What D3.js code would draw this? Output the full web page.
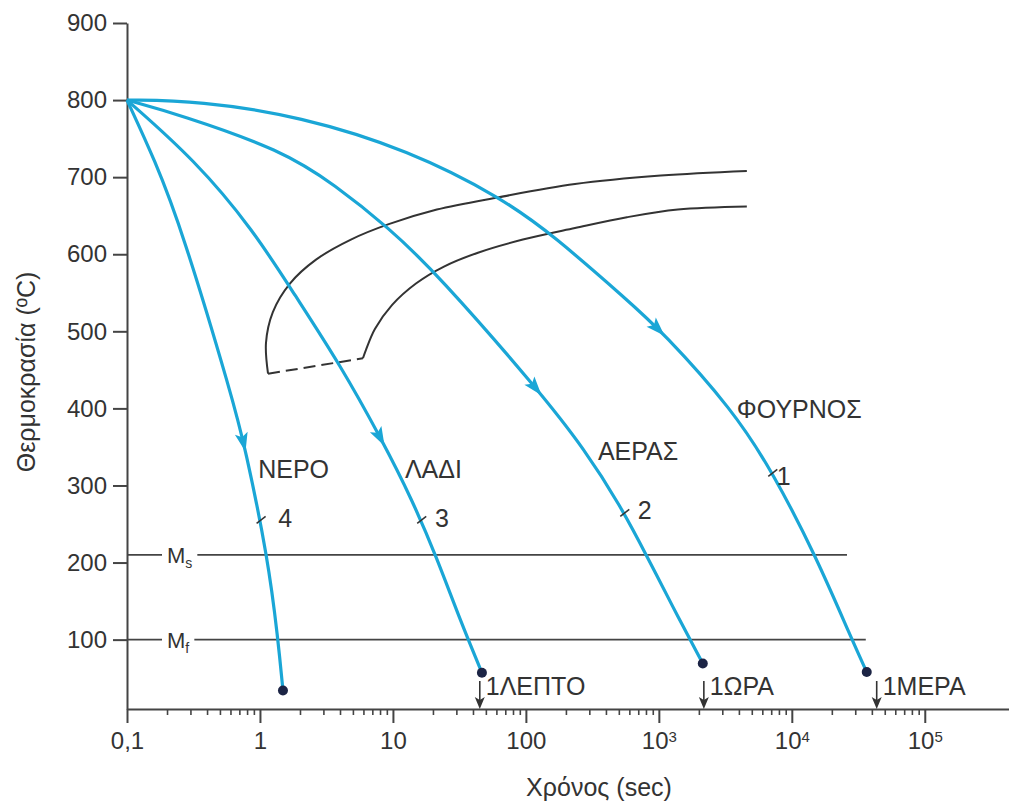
<!DOCTYPE html>
<html>
<head>
<meta charset="utf-8">
<script src="https://cdn.jsdelivr.net/npm/d3@7"></script>
<style>
  body { margin: 0; background: #fff; }
  text { font-family: "Liberation Sans", Arial, Helvetica, sans-serif; fill: #333; }
</style>
</head>
<body>
<div id="chart"></div>
<script>
// Cooling curves on a CCT diagram
// time in sec, temperature in °C

const furnaceTime = [0.1, 0.35, 2.0, 13.2, 66, 162, 575, 1070, 3600, 7200, 15400, 28300, 36600];
const furnaceTemp = [800, 799, 779, 735, 673, 624, 541, 499, 398, 317, 206, 100, 58];

const airTime = [0.1, 0.25, 1.46, 3.66, 9.33, 21.4, 127, 278, 509, 827, 1250, 2140];
const airTemp = [800, 781, 735, 690, 634, 575, 422, 346, 275, 206, 145, 69];

const oilTime = [0.1, 0.325, 0.886, 1.83, 4.0, 8.27, 13.9, 21.4, 31.9, 46.7];
const oilTemp = [800, 722, 632, 547, 457, 359, 282, 206, 126, 57];

const waterTime = [0.1, 0.162, 0.259, 0.627, 0.771, 1.148, 1.366, 1.489];
const waterTemp = [800, 722, 632, 411, 350, 206, 101, 34];

// curve names, numbers and where the arrow / tag sit (temperature on the curve)
const curveNames = ["ΦΟΥΡΝΟΣ", "ΑΕΡΑΣ", "ΛΑΔΙ", "ΝΕΡΟ"];
const curveNumbers = ["1", "2", "3", "4"];
const arrowTemps = [499, 422, 357, 350];
const tagTemps = [317, 265, 256, 256];
const nameTimes = [3860, 348, 12.3, 0.97];
const nameTemps = [388, 333, 310, 310];
const numberTimes = [7710, 695, 20.7, 1.37];
const numberTemps = [301, 256, 246, 246];

// transformation start / finish lines
const startTime = [1.15, 1.11, 1.25, 1.68, 2.64, 4.83, 9.3, 21.4, 62.7, 234, 1035, 4590];
const startTemp = [445, 485, 525, 562, 593, 619, 639, 658, 674, 691, 702, 708];
const finishTime = [5.95, 6.27, 7.32, 9.83, 14.9, 24.2, 43.6, 94.9, 234, 575, 1390, 4590];
const finishTemp = [465, 476, 503, 534, 562, 584, 602, 619, 634, 648, 658, 662];

// martensite lines
const mTemps = [210, 100];
const mEnds = [26000, 36000];
const mSubs = ["s", "f"];

// time markers on the axis
const markTimes = [45, 2180, 43500];
const markLabels = ["1ΛΕΠΤΟ", "1ΩΡΑ", "1ΜΕΡΑ"];

const xTicks = [0.1, 1, 10, 100, 1e3, 1e4, 1e5];
const yTicks = [100, 200, 300, 400, 500, 600, 700, 800, 900];

const width = 1009;
const height = 801;
const margin = {left: 127, right: 0, top: 23, bottom: 92};
const cyan = "#1aa6d6";
const dark = "#333";

const svg = d3.select("#chart")
  .append("svg")
  .attr("width", width)
  .attr("height", height);

const x = d3.scaleLog()
  .domain([0.1, 4.3e5])
  .range([margin.left, width - margin.right]);

const y = d3.scaleLinear()
  .domain([10, 900])
  .range([height - margin.bottom, margin.top]);

// axes
const xAxisG = svg.append("g")
  .attr("transform", `translate(0,${y(10)})`)
  .attr("color", "#444")
  .call(d3.axisBottom(x)
    .tickValues(xTicks)
    .tickSize(14)
    .tickSizeOuter(0)
    .tickPadding(9)
    .tickFormat(d => d === 0.1 ? "0,1" : String(d)));

xAxisG.select(".domain").attr("stroke-width", 2);
xAxisG.selectAll(".tick line").attr("stroke-width", 2);
xAxisG.selectAll(".tick text")
  .attr("font-size", "24px")
  .each(function(d) {
    const k = Math.round(Math.log10(d));
    if (k >= 3) {
      const t = d3.select(this).text("10");
      t.append("tspan").attr("dy", "-0.5em").attr("font-size", "15px").text(k);
    }
  });

// minor ticks
const minorTicks = [];
for (let k = -1; k < 5; k++) {
  for (let m = 2; m <= 9; m++) minorTicks.push(m * Math.pow(10, k));
}
svg.append("g")
  .attr("transform", `translate(0,${y(10)})`)
  .attr("color", "#444")
  .call(d3.axisBottom(x).tickValues(minorTicks).tickSize(6).tickFormat(""))
  .call(g => g.select(".domain").remove())
  .selectAll(".tick line").attr("stroke-width", 1.6);

const yAxisG = svg.append("g")
  .attr("transform", `translate(${margin.left},0)`)
  .attr("color", "#444")
  .call(d3.axisLeft(y)
    .tickValues(yTicks)
    .tickSize(14)
    .tickSizeOuter(0)
    .tickPadding(6));

yAxisG.select(".domain").attr("stroke-width", 2);
yAxisG.selectAll(".tick line").attr("stroke-width", 2);
yAxisG.selectAll(".tick text").attr("font-size", "24px");

// axis titles
svg.append("text")
  .attr("transform", `translate(35,${372}) rotate(-90)`)
  .attr("text-anchor", "middle")
  .attr("font-size", "25px")
  .text("Θερμοκρασία (ºC)");

svg.append("text")
  .attr("x", 599)
  .attr("y", 796)
  .attr("text-anchor", "middle")
  .attr("font-size", "25px")
  .text("Χρόνος (sec)");

// Ms / Mf lines
mTemps.forEach((t, i) => {
  svg.append("line")
    .attr("x1", x(0.1)).attr("x2", x(mEnds[i]))
    .attr("y1", y(t)).attr("y2", y(t))
    .attr("stroke", "#444").attr("stroke-width", 1.6);
  const bg = svg.append("rect").attr("fill", "#fff");
  const lbl = svg.append("text")
    .attr("x", x(0.1) + 40)
    .attr("y", y(t) + 8)
    .attr("font-size", "22px")
    .text("M");
  lbl.append("tspan").attr("dy", 5).attr("font-size", "14px").text(mSubs[i]);
  const b = lbl.node().getBBox();
  bg.attr("x", b.x - 5).attr("y", b.y).attr("width", b.width + 10).attr("height", b.height);
});

// transformation lines
const blackLine = d3.line()
  .x(d => x(d[0]))
  .y(d => y(d[1]))
  .curve(d3.curveCatmullRom.alpha(0.5));

// cooling curves are smoothed a little more
const coolLine = d3.line()
  .x(d => x(d[0]))
  .y(d => y(d[1]))
  .curve(d3.curveBasis);

svg.append("path")
  .datum(d3.zip(startTime, startTemp))
  .attr("d", blackLine)
  .attr("fill", "none").attr("stroke", dark).attr("stroke-width", 2);

svg.append("path")
  .datum(d3.zip(finishTime, finishTemp))
  .attr("d", blackLine)
  .attr("fill", "none").attr("stroke", dark).attr("stroke-width", 2);

svg.append("path")
  .datum([[startTime[0], startTemp[0]], [finishTime[0], finishTemp[0]]])
  .attr("d", d3.line().x(d => x(d[0])).y(d => y(d[1])))
  .attr("fill", "none").attr("stroke", dark).attr("stroke-width", 2)
  .attr("stroke-dasharray", "12,6");

const curves = [
  {time: furnaceTime, temp: furnaceTemp},
  {time: airTime, temp: airTemp},
  {time: oilTime, temp: oilTemp},
  {time: waterTime, temp: waterTemp}
];

// point on a path at a given pixel y (y grows along the path)
function pointAtY(node, py) {
  let lo = 0, hi = node.getTotalLength();
  for (let i = 0; i < 40; i++) {
    const mid = (lo + hi) / 2;
    if (node.getPointAtLength(mid).y < py) lo = mid; else hi = mid;
  }
  const p = node.getPointAtLength(lo);
  const q = node.getPointAtLength(Math.max(0, lo - 4));
  return {x: p.x, y: p.y, ang: Math.atan2(p.y - q.y, p.x - q.x) * 180 / Math.PI};
}

curves.forEach((c, i) => {
  const path = svg.append("path")
    .datum(d3.zip(c.time, c.temp))
    .attr("d", coolLine)
    .attr("fill", "none")
    .attr("stroke", cyan)
    .attr("stroke-width", 3.2);

  const node = path.node();

  // arrow head
  const a = pointAtY(node, y(arrowTemps[i]));
  svg.append("path")
    .attr("d", "M5,0L-14,-6.5L-10,0L-14,6.5Z")
    .attr("transform", `translate(${a.x},${a.y}) rotate(${a.ang})`)
    .attr("fill", cyan);

  // small tag mark
  const g = pointAtY(node, y(tagTemps[i]));
  svg.append("line")
    .attr("x1", g.x - 3).attr("y1", g.y + 4)
    .attr("x2", g.x + 6).attr("y2", g.y - 3)
    .attr("stroke", dark).attr("stroke-width", 1.5);

  // end dot
  svg.append("circle")
    .attr("cx", x(c.time[c.time.length - 1]))
    .attr("cy", y(c.temp[c.temp.length - 1]))
    .attr("r", 5)
    .attr("fill", "#1c2445");

  svg.append("text")
    .attr("x", x(nameTimes[i]))
    .attr("y", y(nameTemps[i]))
    .attr("font-size", "25px")
    .text(curveNames[i]);

  svg.append("text")
    .attr("x", x(numberTimes[i]))
    .attr("y", y(numberTemps[i]))
    .attr("font-size", "25px")
    .text(curveNumbers[i]);
});

// time markers
markTimes.forEach((t, i) => {
  const mx = x(t);
  const base = y(10);
  svg.append("line")
    .attr("x1", mx).attr("x2", mx)
    .attr("y1", base - 28).attr("y2", base - 4)
    .attr("stroke", dark).attr("stroke-width", 1.6);
  svg.append("path")
    .attr("d", `M${mx},${base}L${mx - 5},${base - 12}L${mx},${base - 9}L${mx + 5},${base - 12}Z`)
    .attr("fill", dark);
  svg.append("text")
    .attr("x", mx + 6)
    .attr("y", base - 14)
    .attr("font-size", "25px")
    .text(markLabels[i]);
});
</script>
</body>
</html>
